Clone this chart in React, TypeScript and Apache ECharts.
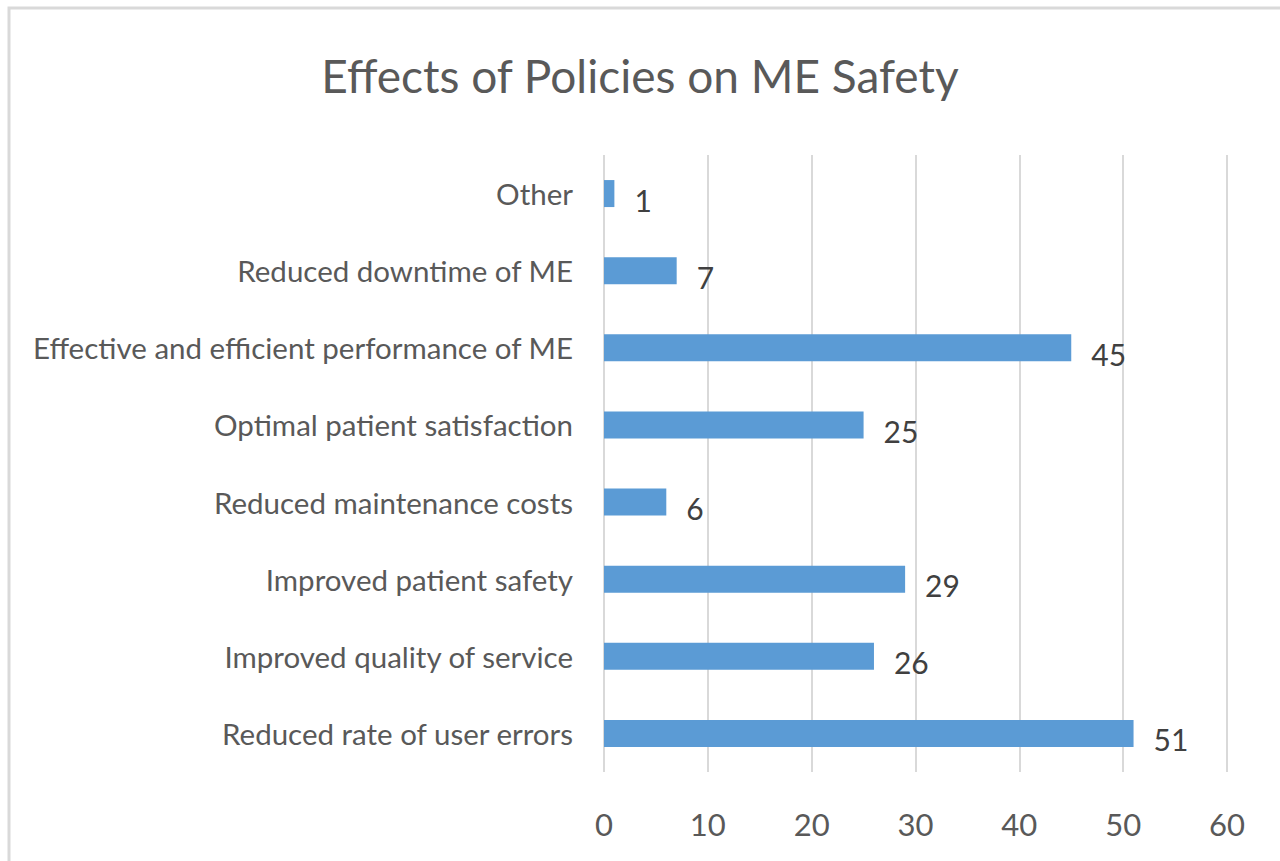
import React, { useEffect, useRef } from "react";
import * as echarts from "echarts";

const categories = [
  "Other",
  "Reduced downtime of ME",
  "Effective and efficient performance of ME",
  "Optimal patient satisfaction",
  "Reduced maintenance costs",
  "Improved patient safety",
  "Improved quality of service",
  "Reduced rate of user errors",
];
const values = [1, 7, 45, 25, 6, 29, 26, 51];
const xTicks = { min: 0, max: 60, interval: 10 };
const title = "Effects of Policies on ME Safety";

const FONT = "Lato, 'Open Sans', sans-serif";

export default function App() {
  const ref = useRef<HTMLDivElement>(null);
  useEffect(() => {
    if (!ref.current) return;
    const chart = echarts.init(ref.current, null, { renderer: "svg" });
    chart.setOption({
      animation: false,
      backgroundColor: "#ffffff",
      title: {
        text: title,
        left: "center",
        top: 47,
        textStyle: { fontFamily: FONT, fontSize: 46, fontWeight: "normal", color: "#595959" },
      },
      graphic: [
        {
          type: "rect",
          shape: { x: 9, y: 8, width: 1300, height: 900 },
          style: { fill: "none", stroke: "#d9d9d9", lineWidth: 3 },
          silent: true,
        },
      ],
      grid: {
        left: 604,
        right: 53,
        top: 155,
        bottom: 89,
        containLabel: false,
        outerBoundsMode: "none",
      },
      xAxis: {
        type: "value",
        min: xTicks.min,
        max: xTicks.max,
        interval: xTicks.interval,
        axisLine: { show: false },
        axisTick: { show: false },
        splitLine: { show: true, lineStyle: { color: "#d9d9d9", width: 2 } },
        axisLabel: { fontFamily: FONT, fontSize: 31, color: "#595959", margin: 36 },
      },
      yAxis: {
        type: "category",
        data: categories,
        inverse: true,
        axisLine: { show: false },
        axisTick: { show: false },
        axisLabel: { fontFamily: FONT, fontSize: 29.5, color: "#595959", margin: 31 },
      },
      series: [
        {
          type: "bar",
          data: values,
          barWidth: 27,
          itemStyle: { color: "#5b9bd5" },
          label: {
            show: true,
            position: "right",
            distance: 20,
            offset: [0, 6],
            fontFamily: FONT,
            fontSize: 30,
            color: "#404040",
          },
        },
      ],
    });
    return () => chart.dispose();
  }, []);
  return (
    <div
      ref={ref}
      style={{ position: "fixed", left: 0, top: 0, width: 1280, height: 861 }}
    />
  );
}
